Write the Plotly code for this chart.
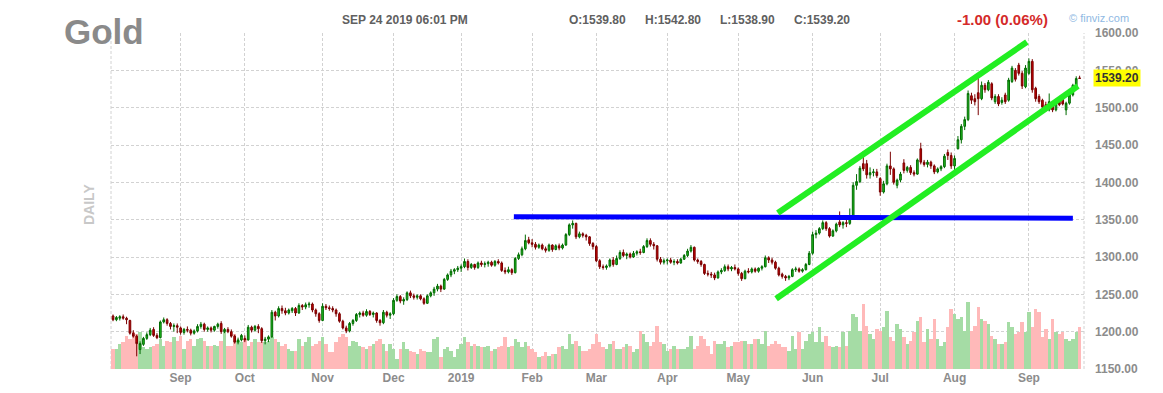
import pandas as pd
import plotly.graph_objects as go

# ---------------- data ----------------
HOLIDAYS = ["2018-09-03", "2018-11-22", "2018-12-25", "2019-01-01", "2019-01-21",
            "2019-02-18", "2019-04-19", "2019-05-27", "2019-07-04", "2019-09-02"]
FIRST_DAY = "2018-08-06"
LAST_DAY = "2019-09-24"
MONTH_LABELS = ["Sep", "Oct", "Nov", "Dec", "2019", "Feb", "Mar", "Apr", "May", "Jun", "Jul", "Aug", "Sep"]

OPEN = [
    1221, 1216, 1218, 1220, 1218, 1215, 1198, 1194, 1176, 1183,
    1191, 1196, 1203, 1195, 1192, 1213, 1216, 1211, 1207, 1208,
    1205, 1199, 1203, 1202, 1198, 1201, 1207, 1210, 1203, 1205,
    1202, 1207, 1211, 1200, 1203, 1200, 1194, 1186, 1189,
    1191, 1189, 1206, 1202, 1207, 1204, 1188, 1190, 1193, 1226,
    1221, 1231, 1228, 1225, 1228, 1231, 1225, 1235, 1233, 1236, 1237, 1229, 1224,
    1215, 1234, 1232, 1231, 1229, 1224, 1214, 1205, 1201, 1211, 1215,
    1223, 1225, 1222, 1227, 1223, 1225, 1215, 1212, 1226, 1222,
    1224, 1242, 1247, 1241, 1243, 1252, 1248, 1246, 1248, 1244,
    1238, 1248, 1252, 1257, 1261, 1257, 1270, 1276, 1281, 1283,
    1285, 1287, 1294, 1286, 1290, 1286, 1292, 1290, 1291, 1293,
    1289, 1294, 1292, 1282, 1280, 1283, 1279, 1298, 1303, 1311, 1323,
    1319, 1317, 1313, 1316, 1311, 1309, 1316, 1310, 1315, 1312,
    1316, 1330, 1343, 1345, 1327, 1331, 1329, 1327, 1318,
    1314, 1295, 1287, 1286, 1288, 1296, 1290, 1298, 1306, 1302, 1304,
    1300, 1305, 1307, 1306, 1314, 1322, 1317, 1315, 1297, 1293,
    1295, 1296, 1293, 1294, 1292, 1297, 1302, 1308, 1313, 1296, 1294,
    1290, 1278, 1277, 1276, 1272, 1280, 1282, 1287, 1284, 1286,
    1284, 1278, 1271, 1281, 1280, 1284, 1281, 1285, 1287, 1299, 1296,
    1293, 1285, 1277, 1274, 1272, 1274, 1283, 1284, 1281, 1283, 1290,
    1305, 1330, 1332, 1338, 1346, 1338, 1328, 1335, 1347, 1343,
    1346, 1345, 1354, 1396, 1401, 1425, 1425, 1410, 1413,
    1414, 1405, 1387, 1398, 1422, 1418, 1396, 1403, 1426, 1416, 1420,
    1413, 1411, 1445, 1427, 1424, 1427, 1422, 1414, 1418, 1421, 1440, 1436,
    1422, 1445, 1457, 1475, 1484, 1516, 1512, 1520, 1512, 1530,
    1524, 1532, 1508, 1515, 1507, 1517, 1510, 1535, 1550, 1557, 1546, 1528,
    1546, 1562, 1526, 1515, 1510, 1504, 1497, 1504, 1497, 1512,
    1512, 1497, 1506, 1517, 1528, 1539.8,
]
HIGH = [
    1223, 1221, 1222, 1223, 1220, 1216, 1202, 1196, 1187, 1193,
    1199, 1205, 1206, 1198, 1215, 1219, 1218, 1213, 1211, 1211,
    1207, 1205, 1207, 1204, 1203, 1210, 1213, 1212, 1207, 1207,
    1208, 1212, 1214, 1205, 1206, 1203, 1196, 1192, 1197,
    1195, 1209, 1208, 1209, 1210, 1206, 1193, 1195, 1229, 1228,
    1234, 1235, 1232, 1231, 1233, 1233, 1238, 1237, 1239, 1240, 1239, 1231, 1226,
    1238, 1237, 1235, 1234, 1231, 1226, 1216, 1208, 1213, 1217, 1225,
    1227, 1228, 1230, 1229, 1227, 1226, 1217, 1229, 1228, 1226,
    1245, 1250, 1249, 1246, 1254, 1255, 1251, 1250, 1250, 1246,
    1250, 1254, 1260, 1264, 1263, 1272, 1278, 1284, 1285, 1288,
    1290, 1298, 1297, 1292, 1291, 1294, 1295, 1294, 1295, 1295,
    1296, 1297, 1294, 1286, 1287, 1285, 1300, 1306, 1314, 1330, 1327,
    1324, 1320, 1318, 1318, 1314, 1318, 1317, 1317, 1318, 1318,
    1332, 1345, 1349, 1346, 1334, 1333, 1331, 1328, 1320,
    1316, 1297, 1290, 1290, 1298, 1300, 1302, 1309, 1310, 1306, 1306,
    1308, 1309, 1311, 1316, 1325, 1325, 1320, 1316, 1300, 1298,
    1298, 1299, 1297, 1297, 1299, 1304, 1311, 1316, 1314, 1298, 1296,
    1291, 1282, 1280, 1279, 1282, 1285, 1290, 1290, 1288, 1290,
    1286, 1280, 1283, 1285, 1286, 1286, 1286, 1289, 1302, 1301, 1299,
    1295, 1287, 1279, 1276, 1276, 1285, 1287, 1286, 1285, 1292, 1308,
    1334, 1336, 1340, 1349, 1348, 1340, 1337, 1346, 1361, 1348,
    1350, 1365, 1400, 1411, 1422, 1442, 1430, 1420, 1418,
    1418, 1407, 1402, 1425, 1441, 1420, 1405, 1414, 1431, 1422, 1423,
    1416, 1432, 1453, 1430, 1430, 1429, 1424, 1420, 1423, 1438, 1444, 1440,
    1436, 1462, 1478, 1488, 1523, 1520, 1518, 1546, 1535, 1533,
    1537, 1534, 1518, 1518, 1514, 1520, 1540, 1556, 1553, 1560, 1549, 1557,
    1566, 1565, 1528, 1518, 1512, 1508, 1519, 1507, 1510, 1514,
    1514, 1508, 1519, 1532, 1542, 1542.8,
]
LOW = [
    1214, 1214, 1215, 1216, 1210, 1196, 1192, 1167, 1170, 1181,
    1189, 1194, 1193, 1190, 1191, 1211, 1208, 1203, 1200, 1198,
    1196, 1196, 1199, 1195, 1196, 1199, 1204, 1200, 1200, 1199,
    1200, 1204, 1197, 1198, 1198, 1192, 1184, 1183, 1187,
    1186, 1188, 1199, 1200, 1198, 1185, 1183, 1186, 1192, 1215,
    1219, 1224, 1222, 1223, 1225, 1221, 1224, 1229, 1230, 1232, 1226, 1220, 1212,
    1214, 1229, 1228, 1226, 1220, 1212, 1203, 1198, 1199, 1208, 1213,
    1219, 1220, 1220, 1221, 1219, 1212, 1208, 1210, 1219, 1217,
    1222, 1240, 1238, 1236, 1241, 1245, 1243, 1243, 1242, 1236,
    1237, 1246, 1248, 1254, 1253, 1256, 1268, 1273, 1277, 1280,
    1280, 1285, 1282, 1284, 1283, 1284, 1287, 1286, 1287, 1287,
    1287, 1290, 1280, 1277, 1278, 1276, 1278, 1296, 1301, 1309, 1317,
    1313, 1310, 1311, 1309, 1306, 1307, 1307, 1309, 1309, 1310,
    1315, 1328, 1338, 1324, 1325, 1326, 1322, 1315, 1310,
    1293, 1284, 1283, 1283, 1286, 1287, 1289, 1296, 1300, 1297, 1298,
    1299, 1302, 1303, 1305, 1312, 1314, 1310, 1294, 1290, 1290,
    1290, 1291, 1289, 1290, 1291, 1296, 1300, 1306, 1294, 1291, 1287,
    1276, 1274, 1272, 1269, 1271, 1277, 1280, 1281, 1281, 1282,
    1275, 1268, 1270, 1278, 1278, 1279, 1279, 1282, 1286, 1292, 1290,
    1283, 1274, 1271, 1268, 1269, 1273, 1280, 1279, 1279, 1282, 1289,
    1303, 1325, 1330, 1336, 1335, 1326, 1327, 1333, 1340, 1338,
    1340, 1343, 1352, 1390, 1399, 1415, 1405, 1405, 1408,
    1406, 1382, 1385, 1396, 1410, 1397, 1392, 1400, 1412, 1413, 1410,
    1408, 1410, 1424, 1421, 1420, 1418, 1411, 1412, 1415, 1419, 1430, 1418,
    1414, 1444, 1452, 1470, 1482, 1505, 1503, 1490, 1510, 1520,
    1522, 1510, 1505, 1502, 1504, 1505, 1508, 1533, 1535, 1543, 1525, 1526,
    1544, 1520, 1508, 1505, 1498, 1495, 1495, 1494, 1495, 1502,
    1503, 1490, 1504, 1515, 1526, 1538.9,
]
CLOSE = [
    1216, 1219, 1220, 1218, 1216, 1198, 1194, 1184, 1184, 1191,
    1196, 1202, 1195, 1192, 1213, 1216, 1211, 1207, 1208, 1206,
    1199, 1203, 1202, 1198, 1201, 1207, 1210, 1203, 1205, 1202,
    1207, 1210, 1200, 1203, 1200, 1194, 1186, 1189, 1195,
    1189, 1206, 1202, 1207, 1204, 1188, 1190, 1193, 1226, 1221,
    1231, 1228, 1225, 1229, 1231, 1225, 1235, 1233, 1236, 1237, 1229, 1224, 1215,
    1234, 1232, 1231, 1229, 1224, 1214, 1205, 1201, 1211, 1215, 1223,
    1225, 1222, 1227, 1223, 1225, 1215, 1212, 1226, 1222, 1224,
    1242, 1247, 1241, 1243, 1252, 1248, 1246, 1248, 1244, 1238,
    1248, 1252, 1257, 1261, 1257, 1270, 1276, 1281, 1283, 1285,
    1287, 1294, 1286, 1290, 1286, 1292, 1290, 1291, 1293, 1289,
    1294, 1292, 1282, 1280, 1283, 1279, 1298, 1303, 1311, 1322, 1319,
    1317, 1313, 1316, 1311, 1309, 1316, 1310, 1315, 1312, 1316,
    1330, 1343, 1345, 1327, 1331, 1329, 1327, 1318, 1314,
    1295, 1287, 1286, 1288, 1296, 1290, 1298, 1306, 1302, 1304, 1300,
    1305, 1307, 1306, 1314, 1322, 1317, 1315, 1297, 1293, 1295,
    1296, 1293, 1294, 1292, 1297, 1302, 1308, 1313, 1296, 1294, 1290,
    1278, 1277, 1276, 1272, 1280, 1282, 1287, 1284, 1286, 1284,
    1278, 1271, 1281, 1280, 1284, 1281, 1285, 1287, 1299, 1296, 1293,
    1285, 1276, 1274, 1272, 1274, 1283, 1284, 1281, 1283, 1290, 1305,
    1330, 1332, 1338, 1346, 1338, 1328, 1335, 1344, 1343, 1346,
    1345, 1354, 1396, 1401, 1419, 1418, 1410, 1413, 1414,
    1409, 1387, 1398, 1422, 1418, 1400, 1403, 1411, 1416, 1420, 1413,
    1411, 1430, 1427, 1424, 1427, 1422, 1414, 1418, 1421, 1435, 1436, 1422,
    1432, 1457, 1475, 1484, 1519, 1510, 1508, 1512, 1530, 1524,
    1534, 1513, 1515, 1505, 1510, 1508, 1537, 1553, 1538, 1546, 1529, 1553,
    1562, 1524, 1512, 1508, 1501, 1498, 1508, 1497, 1508, 1504,
    1505, 1506, 1517, 1530, 1539, 1539.2,
]
VOLUME = [  # thousands of contracts
    100, 100, 125, 135, 165, 150, 185, 175, 185, 110, 100, 110, 115, 125, 150, 115, 140, 135, 160, 140,
    165, 100, 140, 150, 115, 150, 155, 140, 115, 115, 120, 115, 140, 185, 115, 115, 175, 140, 135,
    150, 115, 135, 150, 135, 135, 135, 140, 160, 150, 135, 115, 125, 100, 90, 90, 150, 115, 135, 160, 115, 125, 140,
    160, 125, 85, 85, 135, 160, 175, 160, 115, 140, 135, 115, 110, 100, 115, 125, 140, 150, 125, 90, 125,
    100, 50, 100, 135, 100, 90, 85, 75, 100, 90, 85, 85, 150, 160, 60, 100, 110, 90, 60, 100,
    125, 160, 135, 115, 125, 115, 110, 110, 115, 90, 100, 110,
    115, 160, 110, 115, 150, 135, 110, 135, 115,
    100, 85, 60, 65, 85, 65, 75, 75, 110, 115, 100, 175, 125, 140, 115, 90, 90, 100, 125,
    175, 135, 110, 100, 125, 140, 100, 100, 110, 125, 115, 85, 100, 190, 175, 135, 115, 135, 215, 135, 125,
    90, 100, 115, 100, 100, 100, 110, 165, 100, 115, 165, 150, 115, 75, 140, 125, 125, 140, 110, 115, 135,
    135, 140, 140, 125, 125, 150, 150, 125, 190, 115, 125, 140, 125, 110, 110, 90, 165, 100, 185, 100, 140, 175,
    185, 135, 210, 135, 165, 115, 110, 115, 110, 185, 115,
    190, 275, 260, 190, 325, 215, 175, 150, 200, 190, 210, 290, 160, 140, 225, 200, 160, 125, 140, 185,
    240, 260, 135, 200, 150, 250, 150, 115, 135, 210, 300,
    275, 250, 260, 190, 335, 190, 215, 310, 250, 240, 225, 165, 150, 125, 125, 135, 235, 210, 175, 185, 235, 185,
    285, 210, 300, 285, 160, 200, 150, 250, 185, 175, 185, 150, 140, 150, 185, 210,
]

# drawn trend lines: [bar index, price] endpoints
BLUE_LINE_X = [118.6, 284.0]
BLUE_LINE_Y = [1354, 1352]
UPPER_CHANNEL_X = [196.7, 270.4]
UPPER_CHANNEL_Y = [1359, 1588]
LOWER_CHANNEL_X = [196.2, 285.5]
LOWER_CHANNEL_Y = [1244, 1529]

LAST_PRICE = 1539.20

# ---------------- build ----------------
dates = pd.bdate_range(FIRST_DAY, LAST_DAY, freq="C", holidays=HOLIDAYS)
for arr in (OPEN, HIGH, LOW, CLOSE, VOLUME):
    assert len(arr) == len(dates), (len(arr), len(dates))
cats = [d.strftime("%Y-%m-%d") for d in dates]

month_first = []
seen = set()
for d in dates:
    key = (d.year, d.month)
    if key not in seen:
        seen.add(key)
        month_first.append(d.strftime("%Y-%m-%d"))
month_first = month_first[1:]  # first tick is September 2018

GREEN_VOL = "#a5dca5"
RED_VOL = "#ffb9b9"
vol_colors = [GREEN_VOL if c >= o else RED_VOL for o, c in zip(OPEN, CLOSE)]

FONT = "Liberation Sans, Arial, sans-serif"
GRID = "#d2d2d2"
DASH = "3px,2px"
LABEL = "#8c8c8c"

fig = go.Figure()
fig.add_trace(go.Bar(x=cats, y=VOLUME, marker=dict(color=vol_colors, line=dict(width=0)),
                     yaxis="y", hoverinfo="skip", showlegend=False))
fig.add_trace(go.Candlestick(
    x=cats, open=OPEN, high=HIGH, low=LOW, close=CLOSE, yaxis="y2",
    increasing=dict(line=dict(color="#006b00", width=1), fillcolor="#22c022"),
    decreasing=dict(line=dict(color="#7a0000", width=1), fillcolor="#c80000"),
    whiskerwidth=0, hoverinfo="skip", showlegend=False))

n = len(cats)
fig.update_layout(
    width=1163, height=393,
    margin=dict(l=111, r=79, t=33, b=24, autoexpand=False),
    paper_bgcolor="white", plot_bgcolor="white",
    font=dict(family=FONT),
    bargap=0,
    xaxis=dict(type="category", range=[-0.6, n + 0.3], tickmode="array",
               tickvals=month_first, ticktext=MONTH_LABELS, automargin=False,
               showgrid=True, gridcolor=GRID, griddash=DASH, gridwidth=1,
               tickfont=dict(size=12, color=LABEL, weight="bold"),
               ticks="", showline=False, zeroline=False, rangeslider=dict(visible=False)),
    yaxis=dict(range=[0, 1680], visible=False, showgrid=False, fixedrange=True, automargin=False),
    yaxis2=dict(overlaying="y", side="right", range=[1150, 1600], tick0=1150, dtick=50,
                tickformat=".2f", showgrid=True, gridcolor=GRID, griddash=DASH, gridwidth=1,
                zeroline=False, showline=False, ticks="", ticklabelstandoff=10, automargin=False,
                tickfont=dict(size=12, color=LABEL, weight="bold")),
)

shapes = [
    dict(type="line", xref="paper", yref="paper", x0=0, x1=0, y0=0, y1=1,
         line=dict(color=GRID, width=1, dash=DASH), layer="below"),
    dict(type="line", xref="paper", yref="paper", x0=1, x1=1, y0=0, y1=1,
         line=dict(color=GRID, width=1, dash=DASH), layer="below"),
    dict(type="line", xref="x", yref="y2", x0=BLUE_LINE_X[0], x1=BLUE_LINE_X[1],
         y0=BLUE_LINE_Y[0], y1=BLUE_LINE_Y[1], line=dict(color="#0000ff", width=5)),
    dict(type="line", xref="x", yref="y2", x0=UPPER_CHANNEL_X[0], x1=UPPER_CHANNEL_X[1],
         y0=UPPER_CHANNEL_Y[0], y1=UPPER_CHANNEL_Y[1], line=dict(color="#22ee22", width=6)),
    dict(type="line", xref="x", yref="y2", x0=LOWER_CHANNEL_X[0], x1=LOWER_CHANNEL_X[1],
         y0=LOWER_CHANNEL_Y[0], y1=LOWER_CHANNEL_Y[1], line=dict(color="#22ee22", width=6)),
]
fig.update_layout(shapes=shapes)


def px_x(X):
    return (X - 111) / 973


def px_y(Y):
    return (369 - Y) / 336


ann = [
    dict(text="<b>Gold</b>", x=px_x(62), y=px_y(31), font=dict(size=35, color="#8a8a8a")),
    dict(text="<b>SEP 24 2019 06:01 PM</b>", x=px_x(340), y=px_y(20), font=dict(size=12, color="#606060")),
    dict(text="<b>O:%.2f</b>" % OPEN[-1], x=px_x(567), y=px_y(20), font=dict(size=12, color="#606060")),
    dict(text="<b>H:%.2f</b>" % HIGH[-1], x=px_x(643), y=px_y(20), font=dict(size=12, color="#606060")),
    dict(text="<b>L:%.2f</b>" % LOW[-1], x=px_x(718), y=px_y(20), font=dict(size=12, color="#606060")),
    dict(text="<b>C:%.2f</b>" % CLOSE[-1], x=px_x(792), y=px_y(20), font=dict(size=12, color="#606060")),
    dict(text="<b>-1.00 (0.06%)</b>", x=px_x(955), y=px_y(20), font=dict(size=15, color="#d42a2a")),
    dict(text="© finviz.com", x=px_x(1067), y=px_y(18), font=dict(size=11, color="#8fb9e3")),
]
for a in ann:
    a.update(xref="paper", yref="paper", xanchor="left", yanchor="middle", showarrow=False)
fig.update_layout(annotations=ann)
fig.add_annotation(text="<b>DAILY</b>", xref="paper", yref="paper", x=px_x(89), y=px_y(205),
                   textangle=-90, showarrow=False, font=dict(size=14, color="#c8c8c8"),
                   xanchor="center", yanchor="middle")
fig.add_annotation(text="<b>%.2f</b>" % LAST_PRICE, xref="paper", yref="y2", x=1, y=LAST_PRICE,
                   xanchor="left", yanchor="middle", xshift=9, showarrow=False,
                   bgcolor="#ffff00", borderpad=1, font=dict(size=12, color="#333333"))

fig.write_html("out.html")
